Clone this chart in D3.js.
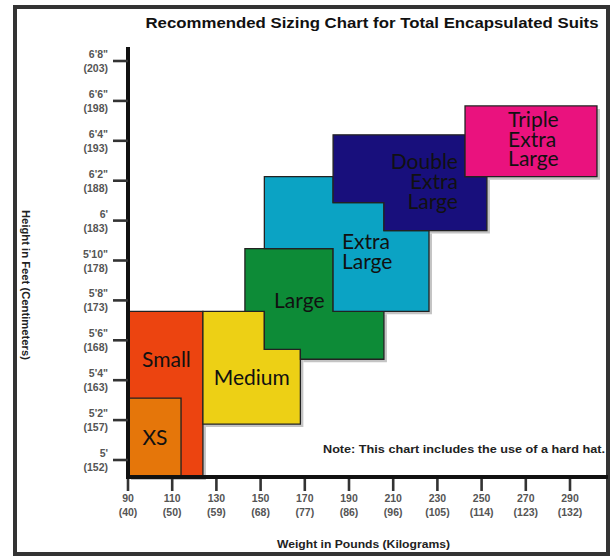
<!DOCTYPE html>
<html>
<head>
<meta charset="utf-8">
<script src="https://cdnjs.cloudflare.com/ajax/libs/d3/7.8.5/d3.min.js"></script>
<style>
  html, body { margin: 0; padding: 0; background: #fff; }
  svg { display: block; }
</style>
</head>
<body>
<script>
// ---------------- DATA ----------------
const titleText = "Recommended Sizing Chart for Total Encapsulated Suits";
const xTitle = "Weight in Pounds (Kilograms)";
const yTitle = "Height in Feet (Centimeters)";
const noteText = "Note: This chart includes the use of a hard hat.";

// weight ticks (lb) and kg labels
const weightTicks = [90, 110, 130, 150, 170, 190, 210, 230, 250, 270, 290];
const kgLabels = ["(40)", "(50)", "(59)", "(68)", "(77)", "(86)", "(96)", "(105)", "(114)", "(123)", "(132)"];

// height ticks (inches) and labels
const heightTicks = [60, 62, 64, 66, 68, 70, 72, 74, 76, 78, 80];
const feetLabels = ["5'", "5'2\"", "5'4\"", "5'6\"", "5'8\"", "5'10\"", "6'", "6'2\"", "6'4\"", "6'6\"", "6'8\""];
const cmLabels = ["(152)", "(157)", "(163)", "(168)", "(173)", "(178)", "(183)", "(188)", "(193)", "(198)", "(203)"];

// size names, label lines
const sizeNames = ["Small", "XS", "Medium", "Large", "Extra Large", "Double Extra Large", "Triple Extra Large"];
const sizeLabelLines = [["Small"], ["XS"], ["Medium"], ["Large"], ["Extra", "Large"], ["Double", "Extra", "Large"], ["Triple", "Extra", "Large"]];

// visible outline of each size region: [weight lb, height in]
const floorHeight = 59.15;
const sizeOutlines = [
  [[90, floorHeight], [123.9, floorHeight], [123.9, 67.45], [90, 67.45]],
  [[90, floorHeight], [114, floorHeight], [114, 63.1], [90, 63.1]],
  [[123.9, 67.45], [151.7, 67.45], [151.7, 65.55], [168, 65.55], [168, 61.8], [123.9, 61.8]],
  [[142.9, 70.6], [182.8, 70.6], [182.8, 67.45], [205.8, 67.45], [205.8, 65.05], [168, 65.05], [168, 65.55], [151.7, 65.55], [151.7, 67.45], [142.9, 67.45]],
  [[151.7, 74.2], [182.8, 74.2], [182.8, 72.9], [205.8, 72.9], [205.8, 71.5], [226.2, 71.5], [226.2, 67.45], [182.8, 67.45], [182.8, 70.6], [151.7, 70.6]],
  [[182.8, 76.3], [242.5, 76.3], [242.5, 74.2], [252.4, 74.2], [252.4, 71.5], [205.8, 71.5], [205.8, 72.9], [182.8, 72.9]],
  [[242.5, 77.75], [302.2, 77.75], [302.2, 74.2], [242.5, 74.2]]
];
// label anchor for each size: [weight, height]
const sizeLabelAnchors = [[107.4, 64.66], [102.2, 60.75], [146, 63.76], [167.5, 67.6], [186.8, 70.58], [239.3, 74.59], [262, 76.7]];
const sizeLabelAlign = ["middle", "middle", "middle", "middle", "start", "end", "start"];
const sizeColors = ["#EC4410", "#E5760A", "#EDD015", "#0D8B37", "#0BA3C4", "#180F7C", "#EA127E"];

// ---------------- CHART ----------------
const W = 613, H = 556;
const svg = d3.select("body").append("svg").attr("width", W).attr("height", H);

const x = d3.scaleLinear().domain([90, 290]).range([128, 570]);
const y = d3.scaleLinear().domain([60, 80]).range([460, 61]);

// frame
svg.append("rect").attr("x", 15).attr("y", 7).attr("width", 593).attr("height", 547)
  .attr("fill", "#fff").attr("stroke", "#333").attr("stroke-width", 4);

// title
svg.append("text").attr("x", 372).attr("y", 28).attr("text-anchor", "middle")
  .attr("font-family", "Liberation Sans, Arial, sans-serif").attr("font-weight", "bold")
  .attr("font-size", 15).attr("fill", "#111")
  .attr("textLength", 453).attr("lengthAdjust", "spacingAndGlyphs")
  .text(titleText);

const line = d3.line().x(d => x(d[0])).y(d => y(d[1]));

// shadows
svg.append("g").selectAll("path").data(sizeOutlines).join("path")
  .attr("d", d => line(d) + "Z")
  .attr("transform", "translate(3,3)")
  .attr("fill", "#c4c4c4");

// shapes
svg.append("g").selectAll("path").data(sizeOutlines).join("path")
  .attr("d", d => line(d) + "Z")
  .attr("fill", (d, i) => sizeColors[i])
  .attr("stroke", "#222").attr("stroke-width", 1.3).attr("stroke-linejoin", "miter");

// size labels
const lg = svg.append("g").attr("font-family", "Lato, 'Open Sans', sans-serif")
  .attr("font-size", 21).attr("fill", "#111");
sizeLabelLines.forEach((lines, i) => {
  const a = sizeLabelAnchors[i];
  const t = lg.append("text")
    .attr("x", x(a[0])).attr("y", y(a[1]))
    .attr("text-anchor", sizeLabelAlign[i]);
  lines.forEach((s, j) => {
    t.append("tspan").attr("x", x(a[0])).attr("dy", j === 0 ? 0 : 19.8).text(s);
  });
});

// axes lines
const axisColor = "#111";
svg.append("line").attr("x1", x(90)).attr("x2", x(90))
  .attr("y1", 47).attr("y2", y(floorHeight) + 2)
  .attr("stroke", axisColor).attr("stroke-width", 4);
svg.append("line").attr("x1", x(90) - 2).attr("x2", 608)
  .attr("y1", y(floorHeight)).attr("y2", y(floorHeight))
  .attr("stroke", axisColor).attr("stroke-width", 4);

// y ticks
const tickFont = "Liberation Sans, Arial, sans-serif";
const yt = svg.append("g").selectAll("g").data(heightTicks).join("g")
  .attr("transform", d => `translate(0,${y(d)})`);
yt.append("line").attr("x1", 113).attr("x2", x(90)).attr("stroke", "#333").attr("stroke-width", 2.6);
yt.append("text").attr("x", 108).attr("y", -3).attr("text-anchor", "end")
  .attr("font-family", tickFont).attr("font-weight", "bold").attr("font-size", 10.5).attr("fill", "#555")
  .text((d, i) => feetLabels[i]);
yt.append("text").attr("x", 108).attr("y", 11).attr("text-anchor", "end")
  .attr("font-family", tickFont).attr("font-weight", "bold").attr("font-size", 10.5).attr("fill", "#555")
  .text((d, i) => cmLabels[i]);

// x ticks
const xt = svg.append("g").selectAll("g").data(weightTicks).join("g")
  .attr("transform", d => `translate(${x(d)},0)`);
xt.append("line").attr("y1", y(floorHeight) + 2).attr("y2", 491).attr("stroke", "#333").attr("stroke-width", 2.6);
xt.append("text").attr("y", 502).attr("text-anchor", "middle")
  .attr("font-family", tickFont).attr("font-weight", "bold").attr("font-size", 10.5).attr("fill", "#555")
  .text(d => d);
xt.append("text").attr("y", 516).attr("text-anchor", "middle")
  .attr("font-family", tickFont).attr("font-weight", "bold").attr("font-size", 10.5).attr("fill", "#555")
  .text((d, i) => kgLabels[i]);

// axis titles
svg.append("text").attr("x", 363.5).attr("y", 548).attr("text-anchor", "middle")
  .attr("font-family", tickFont).attr("font-weight", "bold").attr("font-size", 10.5).attr("fill", "#222")
  .attr("textLength", 173).attr("lengthAdjust", "spacingAndGlyphs")
  .text(xTitle);
svg.append("text").attr("transform", "translate(22,285) rotate(90)").attr("text-anchor", "middle")
  .attr("font-family", tickFont).attr("font-weight", "bold").attr("font-size", 10.5).attr("fill", "#222")
  .attr("textLength", 150).attr("lengthAdjust", "spacingAndGlyphs")
  .text(yTitle);

// note
svg.append("text").attr("x", 323).attr("y", 453)
  .attr("font-family", tickFont).attr("font-weight", "bold").attr("font-size", 10.5).attr("fill", "#222")
  .attr("textLength", 282).attr("lengthAdjust", "spacingAndGlyphs")
  .text(noteText);
</script>
</body>
</html>
